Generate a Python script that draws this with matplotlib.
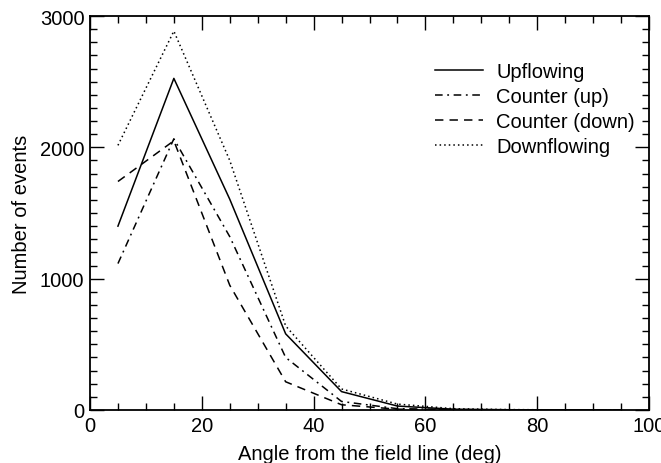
import matplotlib
matplotlib.use("Agg")
import matplotlib.pyplot as plt
from matplotlib.ticker import MultipleLocator

plt.rcParams['font.family'] = ['Liberation Sans', 'DejaVu Sans']

angles = [5, 15, 25, 35, 45, 55, 65, 75, 85, 95]
upflowing = [1400, 2525, 1605, 580, 140, 30, 6, 2, 1, 0]
counter_up = [1115, 2065, 1320, 400, 65, 10, 3, 1, 0, 0]
counter_down = [1740, 2050, 950, 215, 40, 6, 2, 0, 0, 0]
downflowing = [2015, 2885, 1900, 640, 160, 45, 10, 3, 1, 0]

series_names = ["Upflowing", "Counter (up)", "Counter (down)", "Downflowing"]

FS = 14.5

fig = plt.figure(figsize=(6.61, 4.64), dpi=100)
ax = fig.add_axes([90/661, 1 - 411/464, (649-90)/661, (411-17)/464])

lw = 1.1
ax.plot(angles, upflowing, color='black', lw=lw, linestyle='-', label=series_names[0])
ax.plot(angles, counter_up, color='black', lw=lw, linestyle=(0, (5, 3, 1.2, 3)), label=series_names[1])
ax.plot(angles, counter_down, color='black', lw=lw, linestyle=(0, (5.5, 4)), label=series_names[2])
ax.plot(angles, downflowing, color='black', lw=lw, linestyle=(0, (1, 2)), label=series_names[3])

ax.set_xlim(0, 100)
ax.set_ylim(0, 3000)
ax.xaxis.set_major_locator(MultipleLocator(20))
ax.xaxis.set_minor_locator(MultipleLocator(5))
ax.yaxis.set_major_locator(MultipleLocator(1000))
ax.yaxis.set_minor_locator(MultipleLocator(100))
ax.tick_params(which='both', direction='in', top=True, right=True, labelsize=FS, width=1)
ax.tick_params(which='major', length=10, pad=4)
ax.tick_params(which='minor', length=5)
for s in ax.spines.values():
    s.set_linewidth(1.3)

ax.set_xlabel("Angle from the field line (deg)", fontsize=FS, labelpad=7)
ax.set_ylabel("Number of events", fontsize=FS, labelpad=6)

leg = ax.legend(loc='upper left', bbox_to_anchor=((435-90)/559, (411-63)/394), frameon=False,
                fontsize=FS, handlelength=2.4, handletextpad=0.65,
                labelspacing=0.3, borderaxespad=0, borderpad=0)

fig.savefig("out.png", dpi=100)
